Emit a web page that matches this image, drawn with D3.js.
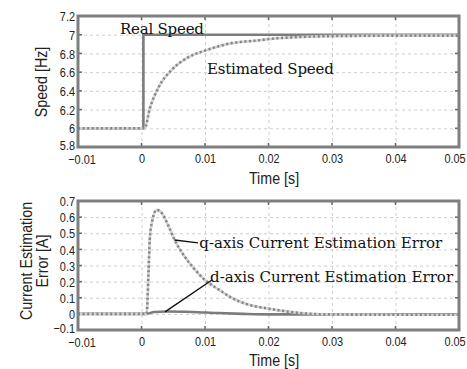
<!DOCTYPE html>
<html>
<head>
<meta charset="utf-8">
<script src="https://cdn.jsdelivr.net/npm/d3@7"></script>
<style>
  body { margin: 0; background: #fff; }
  svg { display: block; }
  .tick-label { font-family: "Liberation Sans Narrow", "Liberation Sans", sans-serif; font-size: 13px; fill: #222; }
  .axis-title { font-family: "Liberation Sans Narrow", "Liberation Sans", sans-serif; font-size: 17px; fill: #222; }
  .note { font-family: "DejaVu Serif", "Liberation Serif", serif; font-size: 15px; fill: #111; }
</style>
</head>
<body>
<div id="chart"></div>
<script>
// shared time axis
const timeTicks = [-0.01, 0, 0.01, 0.02, 0.03, 0.04, 0.05];
const timeTickLabels = ["\u22120.01", "0", "0.01", "0.02", "0.03", "0.04", "0.05"];

// top panel: speed
const speedTicks = [5.8, 6, 6.2, 6.4, 6.6, 6.8, 7, 7.2];
const speedTickLabels = ["5.8", "6", "6.2", "6.4", "6.6", "6.8", "7", "7.2"];
const realT = [-0.01, 0.0003, 0.0003, 0.05];
const realV = [6, 6, 7, 7];
const estT = [-0.01, 0.0005, 0.0013, 0.0027, 0.0047, 0.0074, 0.01, 0.0142, 0.0185, 0.021, 0.025, 0.03, 0.04, 0.05];
const estV = [6, 6, 6.21, 6.44, 6.62, 6.76, 6.83, 6.91, 6.94, 6.96, 6.975, 6.985, 6.99, 6.99];

// bottom panel: current estimation error
const errTicks = [-0.1, 0, 0.1, 0.2, 0.3, 0.4, 0.5, 0.6, 0.7];
const errTickLabels = ["\u22120.1", "0", "0.1", "0.2", "0.3", "0.4", "0.5", "0.6", "0.7"];
const qT = [-0.01, 0.0008, 0.0011, 0.0013, 0.0016, 0.0024, 0.0032, 0.0043, 0.0052, 0.0068, 0.0084, 0.01, 0.0122, 0.0142, 0.0169, 0.0194, 0.022, 0.025, 0.03, 0.04, 0.05];
const qV = [0, 0, 0.25, 0.46, 0.56, 0.645, 0.625, 0.54, 0.46, 0.355, 0.275, 0.21, 0.15, 0.1, 0.056, 0.037, 0.02, 0.005, -0.004, -0.005, -0.005];
const dT = [-0.01, 0.0008, 0.002, 0.004, 0.008, 0.012, 0.016, 0.02, 0.03, 0.05];
const dV = [0, 0, 0.012, 0.015, 0.012, 0.005, 0, -0.003, -0.003, -0.002];

const width = 467, height = 369;
const narrow = "scale(0.84,1)";

const svg = d3.select("#chart").append("svg")
    .attr("width", width)
    .attr("height", height);

// Draw one framed panel, returns its scales
function drawPanel(top, bottom, yDomain, yTicks, yLabels, xTitleY, tickLabelY) {
    const x = d3.scaleLinear().domain([-0.01, 0.05]).range([78, 459]);
    const y = d3.scaleLinear().domain(yDomain).range([bottom, top]);
    const g = svg.append("g");

    // dashed grid
    g.append("g")
        .attr("transform", `translate(0,${bottom})`)
        .call(d3.axisBottom(x).tickValues(timeTicks).tickSize(-(bottom - top)).tickFormat(""))
        .call(a => a.select(".domain").remove())
        .selectAll("line").attr("stroke", "#cfcfcf").attr("stroke-dasharray", "3,3");
    g.append("g")
        .attr("transform", "translate(78,0)")
        .call(d3.axisLeft(y).tickValues(yTicks).tickSize(-(459 - 78)).tickFormat(""))
        .call(a => a.select(".domain").remove())
        .selectAll("line").attr("stroke", "#cfcfcf").attr("stroke-dasharray", "3,3");

    // small inward ticks on the frame
    const tickMarks = g.append("g").attr("stroke", "#666").attr("stroke-width", 1.5);
    timeTicks.forEach(t => {
        tickMarks.append("line").attr("x1", x(t)).attr("x2", x(t)).attr("y1", top).attr("y2", top + 4);
        tickMarks.append("line").attr("x1", x(t)).attr("x2", x(t)).attr("y1", bottom).attr("y2", bottom - 4);
    });
    yTicks.forEach(v => {
        tickMarks.append("line").attr("x1", 78).attr("x2", 82).attr("y1", y(v)).attr("y2", y(v));
        tickMarks.append("line").attr("x1", 459).attr("x2", 455).attr("y1", y(v)).attr("y2", y(v));
    });

    // tick labels
    const xl = g.append("g")
        .attr("transform", `translate(0,${tickLabelY})`)
        .call(d3.axisBottom(x).tickValues(timeTicks).tickSize(0).tickPadding(0)
            .tickFormat((d, i) => timeTickLabels[i]));
    xl.select(".domain").remove();
    xl.selectAll("text").attr("class", "tick-label").attr("dy", 0).attr("transform", narrow);
    // end labels nudged inward, as in the original
    xl.selectAll(".tick").filter(d => d === 0.05).attr("transform", `translate(${x(0.05) - 4},0)`);
    xl.selectAll(".tick").filter(d => d === -0.01).attr("transform", `translate(${x(-0.01) + 4},1)`);

    const yl = g.append("g")
        .attr("transform", "translate(75,0)")
        .call(d3.axisLeft(y).tickValues(yTicks).tickSize(0).tickPadding(0)
            .tickFormat((d, i) => yLabels[i]));
    yl.select(".domain").remove();
    yl.selectAll("text").attr("class", "tick-label").attr("dy", "0.36em").attr("transform", narrow);
    yl.selectAll(".tick").filter(d => d === yDomain[0]).attr("transform", `translate(0,${y(yDomain[0]) - 2})`);
    xl.attr("font-size", null).attr("font-family", null);
    yl.attr("font-size", null).attr("font-family", null);

    // x title
    svg.append("text")
        .attr("class", "axis-title")
        .attr("transform", `translate(274,${xTitleY}) ${narrow}`)
        .attr("text-anchor", "middle")
        .text("Time [s]");

    return { x, y, g, top, bottom };
}

// dotted curve: light band under a darker dash pattern
function dottedLine(p, T, V) {
    const line = d3.line().x((d, i) => p.x(T[i])).y((d, i) => p.y(V[i])).curve(d3.curveMonotoneX);
    p.g.append("path").attr("d", line(T)).attr("fill", "none")
        .attr("stroke", "#d2d2d2").attr("stroke-width", 2.6);
    p.g.append("path").attr("d", line(T)).attr("fill", "none")
        .attr("stroke", "#858585").attr("stroke-width", 2.6).attr("stroke-dasharray", "2,2.6");
}
function solidLine(p, T, V, curve) {
    const line = d3.line().x((d, i) => p.x(T[i])).y((d, i) => p.y(V[i])).curve(curve);
    p.g.append("path").attr("d", line(T)).attr("fill", "none")
        .attr("stroke", "#7c7c7c").attr("stroke-width", 2.6);
}
function frame(p) {
    p.g.append("rect")
        .attr("x", 78).attr("y", p.top)
        .attr("width", 459 - 78).attr("height", p.bottom - p.top)
        .attr("fill", "none").attr("stroke", "#7f7f7f").attr("stroke-width", 3);
}

// ---- top panel
const speed = drawPanel(16, 147, [5.8, 7.2], speedTicks, speedTickLabels, 184, 163);
solidLine(speed, realT, realV, d3.curveLinear);
dottedLine(speed, estT, estV);
frame(speed);

svg.append("text")
    .attr("class", "axis-title")
    .attr("transform", `translate(47,82) rotate(-90) ${narrow}`)
    .attr("text-anchor", "middle")
    .text("Speed [Hz]");

svg.append("text").attr("class", "note")
    .attr("x", speed.x(-0.0034)).attr("y", speed.y(7.005))
    .attr("textLength", 84)
    .text("Real Speed");
svg.append("text").attr("class", "note")
    .attr("x", speed.x(0.0103)).attr("y", speed.y(6.58))
    .attr("textLength", 127)
    .text("Estimated Speed");

// ---- bottom panel
const err = drawPanel(201, 330, [-0.1, 0.7], errTicks, errTickLabels, 366, 346);
solidLine(err, dT, dV, d3.curveMonotoneX);
dottedLine(err, qT, qV);
frame(err);

const errTitle = svg.append("text")
    .attr("class", "axis-title")
    .attr("transform", `translate(0,261) rotate(-90) ${narrow}`)
    .attr("text-anchor", "middle");
errTitle.append("tspan").attr("x", 0).attr("y", 32).text("Current Estimation");
errTitle.append("tspan").attr("x", 0).attr("y", 48).text("Error [A]");

// leader lines and labels
const notes = [
    { from: [0.0052, 0.458], to: [0.0089, 0.44], at: [0.0091, 0.41], len: 243, text: "q-axis Current Estimation Error" },
    { from: [0.0037, 0.012], to: [0.0111, 0.21], at: [0.0108, 0.198], len: 243, text: "d-axis Current Estimation Error" }
];
notes.forEach(n => {
    svg.append("line")
        .attr("x1", err.x(n.from[0])).attr("y1", err.y(n.from[1]))
        .attr("x2", err.x(n.to[0])).attr("y2", err.y(n.to[1]))
        .attr("stroke", "#111").attr("stroke-width", 1.4);
    svg.append("text").attr("class", "note")
        .attr("x", err.x(n.at[0])).attr("y", err.y(n.at[1]))
        .attr("textLength", n.len)
        .text(n.text);
});
</script>
</body>
</html>
